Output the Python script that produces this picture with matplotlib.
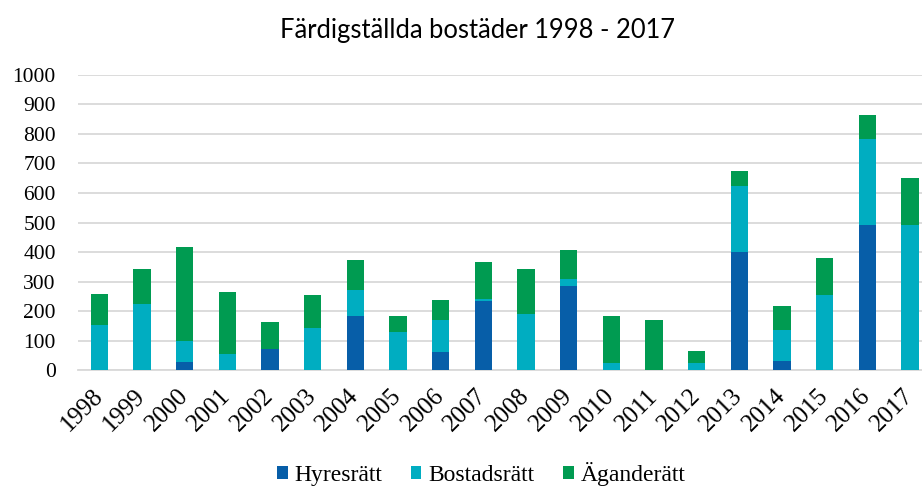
import numpy as np
import matplotlib.pyplot as plt

years = [str(y) for y in range(1998, 2018)]
hyresratt = [0, 0, 28, 0, 73, 0, 185, 0, 63, 236, 0, 286, 0, 0, 0, 401, 32, 0, 492, 0]
bostadsratt = [153, 223, 71, 54, 0, 143, 86, 129, 106, 6, 189, 24, 25, 0, 24, 221, 104, 254, 289, 490]
aganderatt = [104, 119, 319, 211, 89, 111, 103, 54, 69, 124, 153, 96, 159, 171, 40, 52, 80, 125, 81, 159]
series_names = ['Hyresrätt', 'Bostadsrätt', 'Äganderätt']
colors = ['#075ea8', '#00adc1', '#009b51']

plt.rcParams.update({
    'font.family': ['Liberation Serif', 'DejaVu Serif'],
    'font.size': 15.5,
})

fig = plt.figure(figsize=(9.22, 4.87), dpi=100)
ax = fig.add_axes([78 / 922, (487 - 370.3) / 487, (922 - 78) / 922, 295.6 / 487])

x = np.arange(len(years))
h = np.array(hyresratt)
b = np.array(bostadsratt)
a = np.array(aganderatt)
w = 0.41
ax.bar(x, h, w, color=colors[0], label=series_names[0], zorder=3)
ax.bar(x, b, w, bottom=h, color=colors[1], label=series_names[1], zorder=3)
ax.bar(x, a, w, bottom=h + b, color=colors[2], label=series_names[2], zorder=3)

ax.set_ylim(0, 1000)
ax.set_xlim(-0.5, 19.28)
ax.set_yticks(range(0, 1001, 100))
ax.yaxis.grid(True, color='#d9d9d9', linewidth=1.3, zorder=0)
ax.set_axisbelow(True)
for s in ['top', 'right', 'left']:
    ax.spines[s].set_visible(False)
ax.spines['bottom'].set_color('#d9d9d9')
ax.spines['bottom'].set_linewidth(1.3)
ax.tick_params(axis='y', length=0, pad=16)
ax.tick_params(axis='x', length=0, pad=16)
ax.set_xticks(x)
ax.set_xticklabels(years, rotation=45, ha='right', va='center', rotation_mode='anchor',
                   fontsize=18)

fig.text(0.518, 0.938, 'Färdigställda bostäder 1998 - 2017', family='Lato',
         fontsize=18.4, ha='center', va='center')

fig.legend(loc='center', bbox_to_anchor=(0.522, 0.027), ncol=3, frameon=False,
           handlelength=0.45, handleheight=0.45, handletextpad=0.3, columnspacing=1.2,
           fontsize=17)

fig.savefig('out.png', dpi=100)
